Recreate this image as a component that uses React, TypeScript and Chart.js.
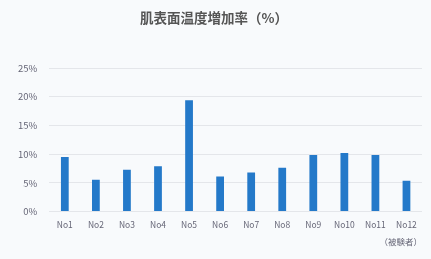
import React, { useEffect, useRef } from "react";
import { Chart, registerables } from "chart.js";

Chart.register(...registerables);

const categories = ["No1", "No2", "No3", "No4", "No5", "No6", "No7", "No8", "No9", "No10", "No11", "No12"];
const values = [9.5, 5.55, 7.3, 7.9, 19.4, 6.1, 6.8, 7.65, 9.85, 10.2, 9.85, 5.4];
const yTicks = [0, 5, 10, 15, 20, 25];
const titleText = "肌表面温度増加率（%）";
const xTitle = "（被験者）";

export default function App() {
  const ref = useRef<HTMLCanvasElement>(null);
  useEffect(() => {
    document.body.style.margin = "0";
    document.body.style.background = "#f8fafc";
    const font = "'Noto Sans CJK JP', 'Noto Sans', sans-serif";
    const chart = new Chart(ref.current!, {
      type: "bar",
      data: {
        labels: categories,
        datasets: [
          {
            data: values,
            backgroundColor: "#2479c9",
            barPercentage: 0.25,
            categoryPercentage: 1,
          },
        ],
      },
      options: {
        animation: false,
        responsive: false,
        maintainAspectRatio: false,
        layout: { padding: { left: 6, right: 9, top: 4, bottom: 12 } },
        plugins: {
          legend: { display: false },
          tooltip: { enabled: false },
          title: {
            display: true,
            text: titleText,
            color: "#555",
            font: { family: font, size: 13.5, weight: "bold" },
            padding: { top: 6, bottom: 42 },
          },
        },
        scales: {
          x: {
            grid: { display: false },
            border: { display: false },
            ticks: { color: "#667", font: { family: font, size: 8.5 }, padding: 0 },
            title: {
              display: true,
              text: xTitle,
              align: "end",
              color: "#667",
              font: { family: font, size: 8.5 },
              padding: { top: 7, bottom: 0 },
            },
          },
          y: {
            min: 0,
            max: 25,
            afterBuildTicks: (axis: any) => {
              axis.ticks = yTicks.map((v) => ({ value: v }));
            },
            grid: { color: "#e4e6ea", drawTicks: false },
            border: { display: false },
            ticks: {
              color: "#667",
              font: { family: font, size: 9.5 },
              padding: 12,
              callback: (v: any) => v + "%",
            },
          },
        },
      },
    });
    return () => chart.destroy();
  }, []);
  return <canvas ref={ref} width={431} height={259} style={{ display: "block", background: "#f8fafc" }} />;
}
